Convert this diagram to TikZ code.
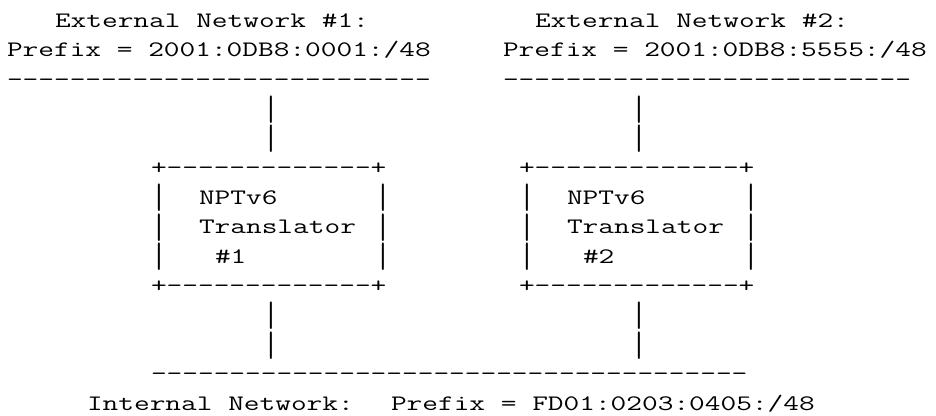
\documentclass[tikz,border=0pt]{standalone}
\usepackage{fontspec}
\usepackage{graphicx}
\newcommand\asciifont{\ttfamily\fontsize{22.1pt}{22.1pt}\selectfont}
\ExplSyntaxOn
\NewDocumentCommand\Dashes{m}{\prg_replicate:nn{#1}{-\kern0pt}}
\ExplSyntaxOff
\newcommand\vbr{\raisebox{-4.6pt}[18pt][6pt]{\scalebox{1}[1.6]{|}}}
\tikzset{asc/.style={anchor=base west,inner sep=0pt,outer sep=0pt,font=\asciifont}}
\newcommand\Txt[4]{\node[asc] (#1) at ({(7+#2*16)*1pt},{(387.5-(#3-1)*29.45)*1pt}) {\scalebox{1.379}[1]{#4}};}
\begin{document}
\begin{tikzpicture}
\fill[white] (0,0) rectangle (936pt,415pt);
\useasboundingbox (0,0) rectangle (936pt,415pt);
% row 1-3: external networks
\Txt{ext1}{3}{1}{External Network \#1:}
\Txt{ext2}{33}{1}{External Network \#2:}
\Txt{pre1}{0}{2}{Prefix = 2001:0DB8:0001:/48}
\Txt{pre2}{31}{2}{Prefix = 2001:0DB8:5555:/48}
\Txt{net1}{0}{3}{\Dashes{27}}
\Txt{net2}{31}{3}{\Dashes{26}}
% rows 4-5: links
\Txt{la1}{16}{4}{\vbr}
\Txt{lb1}{39}{4}{\vbr}
\Txt{la2}{16}{5}{\vbr}
\Txt{lb2}{39}{5}{\vbr}
% boxes
\Txt{ta}{9}{6}{+\Dashes{13}+}
\Txt{tb}{32}{6}{+\Dashes{13}+}
\Txt{a7l}{9}{7}{\vbr}
\Txt{a7t}{12}{7}{NPTv6}
\Txt{a7r}{23}{7}{\vbr}
\Txt{b7l}{32}{7}{\vbr}
\Txt{b7t}{35}{7}{NPTv6}
\Txt{b7r}{46}{7}{\vbr}
\Txt{a8l}{9}{8}{\vbr}
\Txt{a8t}{12}{8}{Translator}
\Txt{a8r}{23}{8}{\vbr}
\Txt{b8l}{32}{8}{\vbr}
\Txt{b8t}{35}{8}{Translator}
\Txt{b8r}{46}{8}{\vbr}
\Txt{a9l}{9}{9}{\vbr}
\Txt{a9t}{13}{9}{\#1}
\Txt{a9r}{23}{9}{\vbr}
\Txt{b9l}{32}{9}{\vbr}
\Txt{b9t}{36}{9}{\#2}
\Txt{b9r}{46}{9}{\vbr}
\Txt{ba}{9}{10}{+\Dashes{13}+}
\Txt{bb}{32}{10}{+\Dashes{13}+}
% rows 11-12: links
\Txt{ma1}{16}{11}{\vbr}
\Txt{mb1}{39}{11}{\vbr}
\Txt{ma2}{16}{12}{\vbr}
\Txt{mb2}{39}{12}{\vbr}
% internal network
\Txt{inet}{9}{13}{\Dashes{38}}
\Txt{intl}{5}{14}{Internal Network:}
\Txt{intp}{24}{14}{Prefix = FD01:0203:0405:/48}
\end{tikzpicture}
\end{document}
